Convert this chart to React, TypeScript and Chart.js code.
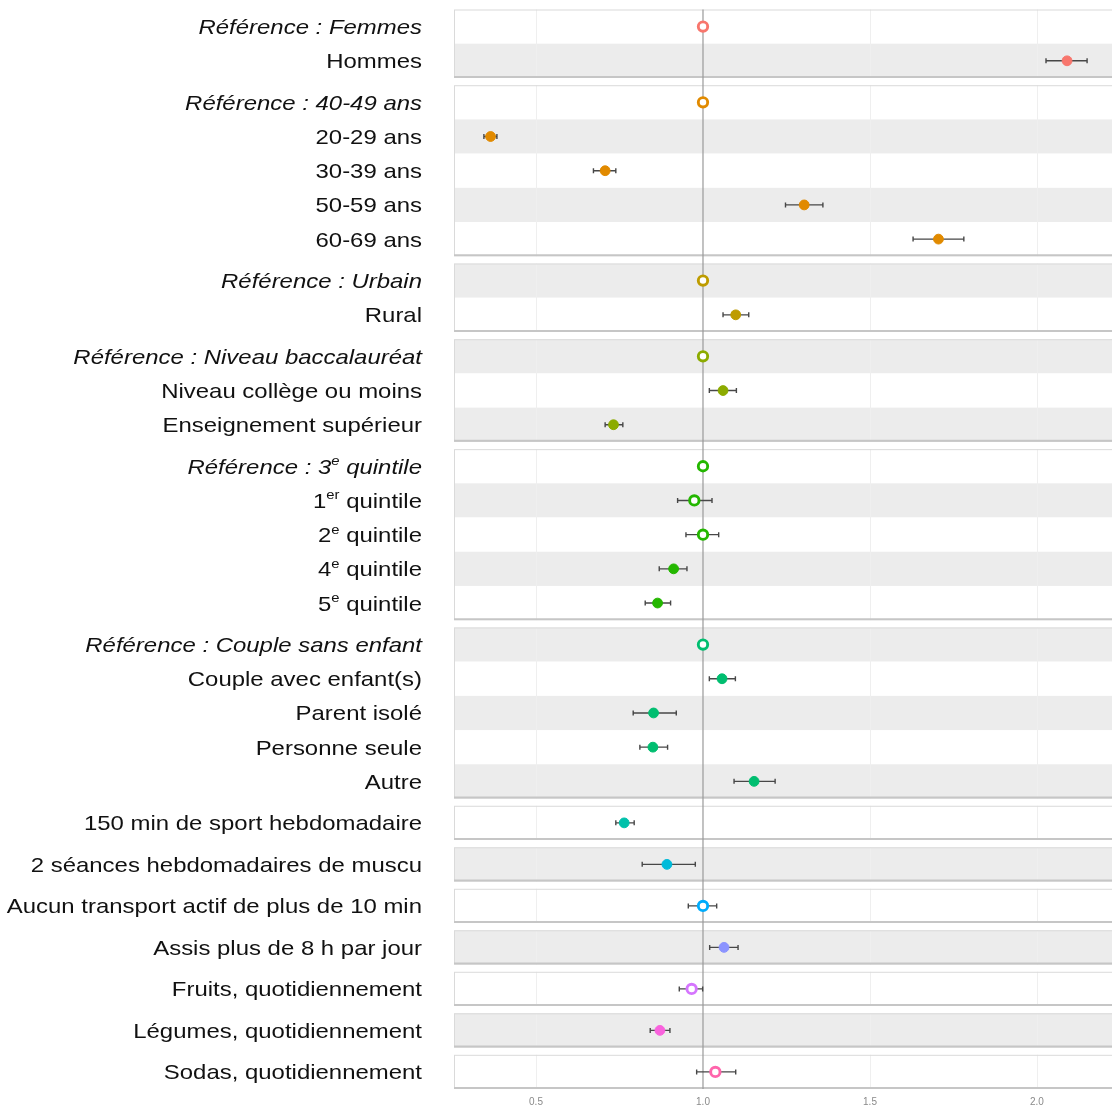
import React, { useEffect, useRef } from "react";
import { Chart, registerables } from "chart.js";

Chart.register(...registerables);

// Number of rows in each block of the forest plot (one panel per block)
const groupSizes = [2, 5, 2, 3, 5, 5, 1, 1, 1, 1, 1, 1, 1];

const groupColors = [
  "#F8766D", "#E18A00", "#BE9C00", "#8CAB00", "#24B700", "#00BE70", "#00C1AB",
  "#00BBDA", "#00ACFC", "#8B93FF", "#D575FE", "#F962DD", "#FF65AC",
];

// Row labels; text inside {} is set as superscript
const rowLabels = [
  "Référence : Femmes", "Hommes",
  "Référence : 40-49 ans", "20-29 ans", "30-39 ans", "50-59 ans", "60-69 ans",
  "Référence : Urbain", "Rural",
  "Référence : Niveau baccalauréat", "Niveau collège ou moins", "Enseignement supérieur",
  "Référence : 3{e} quintile", "1{er} quintile", "2{e} quintile", "4{e} quintile", "5{e} quintile",
  "Référence : Couple sans enfant", "Couple avec enfant(s)", "Parent isolé", "Personne seule", "Autre",
  "150 min de sport hebdomadaire",
  "2 séances hebdomadaires de muscu",
  "Aucun transport actif de plus de 10 min",
  "Assis plus de 8 h par jour",
  "Fruits, quotidiennement",
  "Légumes, quotidiennement",
  "Sodas, quotidiennement",
];

// Odds ratios
const estimates = [
  1, 2.09,
  1, 0.364, 0.707, 1.303, 1.705,
  1, 1.098,
  1, 1.06, 0.732,
  1, 0.974, 1.0, 0.912, 0.864,
  1, 1.057, 0.852, 0.85, 1.153,
  0.764, 0.892, 1.0, 1.063, 0.966, 0.871, 1.037,
];

// 95% confidence interval bounds (null for reference categories)
const ciLow = [
  null, 2.027,
  null, 0.344, 0.672, 1.247, 1.629,
  null, 1.06,
  null, 1.019, 0.707,
  null, 0.924, 0.949, 0.869, 0.827,
  null, 1.019, 0.791, 0.811, 1.093,
  0.739, 0.818, 0.956, 1.02, 0.929, 0.842, 0.981,
];
const ciHigh = [
  null, 2.15,
  null, 0.383, 0.739, 1.359, 1.781,
  null, 1.137,
  null, 1.1, 0.76,
  null, 1.027, 1.047, 0.952, 0.903,
  null, 1.097, 0.92, 0.894, 1.216,
  0.794, 0.977, 1.041, 1.105, 0.999, 0.901, 1.098,
];

// Filled marker = significant, open marker = not significant / reference
const significant = [
  false, true,
  false, true, true, true, true,
  false, true,
  false, true, true,
  false, false, false, true, true,
  false, true, true, true, true,
  true, true, false, true, false, true, false,
];

const xTicks = [0.5, 1.0, 1.5, 2.0];
const X_MIN = 0.2545;
const X_MAX = 2.2246;

// Vertical layout in row units: each row is 1 unit, panels separated by a small gap
const PANEL_GAP = 0.2135;

const panelRanges: { start: number; end: number; first: number; count: number }[] = [];
const rowCenters: number[] = [];
const rowGroup: number[] = [];
{
  let pos = 0;
  let idx = 0;
  groupSizes.forEach((n, g) => {
    const start = pos;
    for (let k = 0; k < n; k++) {
      rowCenters.push(pos + 0.5);
      rowGroup.push(g);
      pos += 1;
    }
    panelRanges.push({ start, end: pos, first: idx, count: n });
    idx += n;
    pos += PANEL_GAP;
  });
}
const Y_MAX = rowCenters[rowCenters.length - 1] + 0.5;

const LABEL_FONT = '"Liberation Sans", Arial, sans-serif';
const LABEL_STRETCH = 1.14;

function drawLabel(ctx: CanvasRenderingContext2D, text: string, rightX: number, baseline: number, italic: boolean) {
  const parts = text
    .split(/(\{[^}]*\})/)
    .filter((p) => p.length > 0)
    .map((p) => (p.startsWith("{") ? { t: p.slice(1, -1), sup: true, w: 0 } : { t: p, sup: false, w: 0 }));
  const style = italic ? "italic " : "";
  const mainFont = `${style}21px ${LABEL_FONT}`;
  const supFont = `${style}13px ${LABEL_FONT}`;
  let total = 0;
  for (const p of parts) {
    ctx.font = p.sup ? supFont : mainFont;
    p.w = ctx.measureText(p.t).width;
    total += p.w;
  }
  ctx.save();
  ctx.translate(rightX, baseline);
  ctx.scale(LABEL_STRETCH, 1);
  ctx.textAlign = "left";
  ctx.textBaseline = "alphabetic";
  ctx.fillStyle = "#111111";
  let x = -total;
  for (const p of parts) {
    ctx.font = p.sup ? supFont : mainFont;
    ctx.fillText(p.t, x, p.sup ? -8.5 : 0);
    x += p.w;
  }
  ctx.restore();
}

const forestPlugin = {
  id: "forestPanels",
  beforeDraw(chart: any) {
    const { ctx, chartArea, scales } = chart;
    const xs = scales.x;
    const ys = scales.y;
    const left = chartArea.left;
    const right = chartArea.right + 4;
    ctx.save();
    panelRanges.forEach((pr) => {
      const top = ys.getPixelForValue(pr.start);
      const bottom = ys.getPixelForValue(pr.end);
      // row stripes
      for (let k = 0; k < pr.count; k++) {
        const r = pr.first + k;
        const y0 = ys.getPixelForValue(pr.start + k);
        const y1 = ys.getPixelForValue(pr.start + k + 1);
        ctx.fillStyle = r % 2 === 1 ? "#ececec" : "#ffffff";
        ctx.fillRect(left, y0, right - left, y1 - y0);
      }
      // vertical grid lines
      ctx.strokeStyle = "#efefef";
      ctx.lineWidth = 1;
      xTicks.forEach((v) => {
        if (v === 1) return;
        const px = Math.round(xs.getPixelForValue(v)) + 0.5;
        ctx.beginPath();
        ctx.moveTo(px, top);
        ctx.lineTo(px, bottom);
        ctx.stroke();
      });
      // panel frame
      ctx.strokeStyle = "#dadada";
      ctx.lineWidth = 1;
      ctx.strokeRect(left + 0.5, top + 0.5, right - left, bottom - top - 1);
      ctx.strokeStyle = "#c6c6c6";
      ctx.lineWidth = 2;
      ctx.beginPath();
      ctx.moveTo(left, bottom - 1);
      ctx.lineTo(right, bottom - 1);
      ctx.stroke();
    });
    // reference line at odds ratio 1
    const x1 = xs.getPixelForValue(1);
    ctx.strokeStyle = "#9a9a9a";
    ctx.lineWidth = 1.2;
    ctx.beginPath();
    ctx.moveTo(x1, chartArea.top);
    ctx.lineTo(x1, chartArea.bottom);
    ctx.stroke();
    ctx.restore();
  },
  beforeDatasetsDraw(chart: any) {
    const { ctx, scales } = chart;
    const xs = scales.x;
    const ys = scales.y;
    ctx.save();
    ctx.strokeStyle = "#474747";
    ctx.lineWidth = 1.4;
    estimates.forEach((_, i) => {
      const lo = ciLow[i];
      const hi = ciHigh[i];
      if (lo == null || hi == null) return;
      const y = ys.getPixelForValue(rowCenters[i]);
      const a = xs.getPixelForValue(lo);
      const b = xs.getPixelForValue(hi);
      ctx.beginPath();
      ctx.moveTo(a, y);
      ctx.lineTo(b, y);
      ctx.moveTo(a, y - 2.5);
      ctx.lineTo(a, y + 2.5);
      ctx.moveTo(b, y - 2.5);
      ctx.lineTo(b, y + 2.5);
      ctx.stroke();
    });
    ctx.restore();
  },
  afterDraw(chart: any) {
    const { ctx, scales } = chart;
    const ys = scales.y;
    rowLabels.forEach((label, i) => {
      const y = ys.getPixelForValue(rowCenters[i]);
      drawLabel(ctx, label, 422, y + 7.5, label.startsWith("Référence"));
    });
  },
};

export default function App() {
  const canvasRef = useRef<HTMLCanvasElement | null>(null);

  useEffect(() => {
    const canvas = canvasRef.current;
    if (!canvas) return;
    const pointColors = rowGroup.map((g) => groupColors[g]);
    const chart = new Chart(canvas, {
      type: "scatter",
      data: {
        datasets: [
          {
            label: "OR",
            data: estimates.map((v, i) => ({ x: v, y: rowCenters[i] })),
            pointStyle: "circle",
            pointRadius: significant.map((s) => (s ? 4.9 : 4.7)),
            pointBorderWidth: significant.map((s) => (s ? 1 : 2.9)),
            pointBackgroundColor: significant.map((s, i) => (s ? pointColors[i] : "#ffffff")),
            pointBorderColor: pointColors,
            pointHoverRadius: 4.7,
          },
        ],
      },
      plugins: [forestPlugin],
      options: {
        animation: false,
        responsive: false,
        devicePixelRatio: 1,
        events: [],
        layout: { autoPadding: false, padding: { left: 454, top: 9.5, right: 0, bottom: 0 } },
        plugins: {
          legend: { display: false },
          tooltip: { enabled: false },
        },
        scales: {
          x: {
            type: "linear",
            min: X_MIN,
            max: X_MAX,
            grid: { display: false, drawTicks: false },
            border: { display: false },
            afterBuildTicks: (axis: any) => {
              axis.ticks = xTicks.map((v) => ({ value: v }));
            },
            afterFit: (axis: any) => {
              axis.height = 19;
              axis.paddingLeft = 0;
              axis.paddingRight = 0;
            },
            ticks: {
              padding: 7,
              color: "#8a8a8a",
              font: { family: LABEL_FONT, size: 10 },
              maxRotation: 0,
              callback: (v: any) => Number(v).toFixed(1),
            },
          },
          y: {
            type: "linear",
            display: false,
            min: 0,
            max: Y_MAX,
            reverse: true,
          },
        },
      },
    });
    return () => chart.destroy();
  }, []);

  return (
    <div style={{ position: "absolute", left: 0, top: 0, width: 1112, height: 1108, background: "#ffffff" }}>
      <canvas ref={canvasRef} width={1112} height={1108} style={{ display: "block" }} />
    </div>
  );
}
